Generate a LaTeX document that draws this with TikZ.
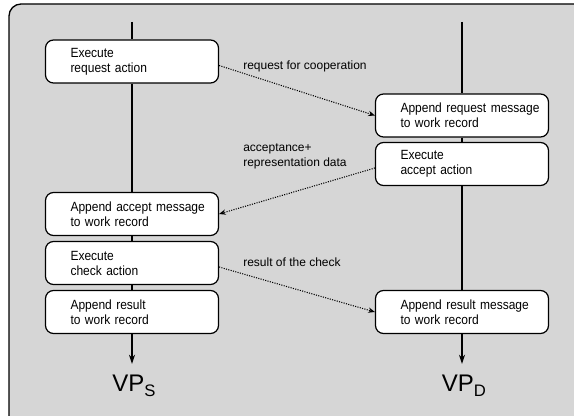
\documentclass[tikz,border=0pt]{standalone}
\usepackage{fontspec}
\setmainfont{Liberation Sans}
\newfontfamily\boxfont[FakeStretch=0.9]{Liberation Sans}
\usetikzlibrary{arrows.meta}
\begin{document}
\begin{tikzpicture}[x=0.75pt,y=-0.75pt,
  actbox/.style={draw,line width=0.9pt,rounded corners=6pt,fill=white,
    minimum width=129.75pt,minimum height=32.25pt,inner xsep=18.75pt,
    text width=92.25pt,align=left,font=\boxfont\fontsize{10}{11.25}\selectfont},
  msglbl/.style={anchor=west,inner sep=0pt,align=left,font=\fontsize{9}{11.25}\selectfont},
  msg/.style={densely dotted,line width=0.8pt,-{Stealth[length=5pt,width=4pt]}},
  life/.style={line width=0.9pt},
  vp/.style={font=\fontsize{18}{20}\selectfont}]
\clip (0,0) rectangle (574,416);
\fill[white] (0,0) rectangle (574,416);
\draw[line width=1pt,rounded corners=9pt,fill=black!16] (9,4) rectangle (600,440);

% lifeline of VP_S
\coordinate (sTop) at (132,22);
\coordinate (sEnd) at (132,364);
\node[actbox] (s1) at (132,61.5) {\mbox{Execute}\\\mbox{request action}};
\node[actbox] (s2) at (132,214) {\mbox{Append accept message}\\\mbox{to work record}};
\node[actbox] (s3) at (132,263) {\mbox{Execute}\\\mbox{check action}};
\node[actbox] (s4) at (132,312) {\mbox{Append result}\\\mbox{to work record}};
\node[vp] (vpS) at (134,386) {VP\raisebox{-4pt}{\fontsize{12.5}{13}\selectfont S}};

% lifeline of VP_D
\coordinate (dTop) at (462,22);
\coordinate (dEnd) at (462,364);
\node[actbox] (d1) at (462,115.5) {\mbox{Append request message}\\\mbox{to work record}};
\node[actbox] (d2) at (462,164) {\mbox{Execute}\\\mbox{accept action}};
\node[actbox] (d3) at (462,312) {\mbox{Append result message}\\\mbox{to work record}};
\node[vp] (vpD) at (464,386) {VP\raisebox{-4pt}{\fontsize{12.5}{13}\selectfont D}};

\draw[life] (sTop)--(s1) (s1)--(s2) (s2)--(s3) (s3)--(s4);
\draw[life,-{Stealth[length=7pt,width=4.5pt]}] (s4)--(sEnd);
\draw[life] (dTop)--(d1) (d1)--(d2) (d2)--(d3);
\draw[life,-{Stealth[length=7pt,width=4.5pt]}] (d3)--(dEnd);

% messages
\draw[msg] ([yshift=-3pt]s1.east)--(d1.west);
\node[msglbl] (lReq) at (243,66) {request for cooperation};
\draw[msg] ([yshift=-3pt]d2.west)--(s2.east);
\node[msglbl] (lAcc) at (243,156) {acceptance+\\representation data};
\draw[msg] ([yshift=-3pt]s3.east)--(d3.west);
\node[msglbl] (lRes) at (243,262) {result of the check};
\end{tikzpicture}
\end{document}
